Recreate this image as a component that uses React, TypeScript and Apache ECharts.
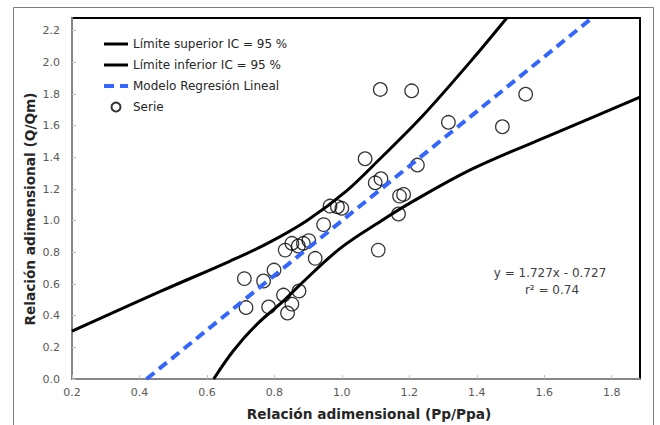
import React, { useEffect, useRef } from "react";
import * as echarts from "echarts";

const xTicks = { min: 0.2, max: 1.884, interval: 0.2 };
const yTicks = { min: 0, max: 2.28, interval: 0.2 };

const seriesNames = [
  "Límite superior IC = 95 %",
  "Límite inferior IC = 95 %",
  "Modelo Regresión Lineal",
  "Serie",
];

const upperLimit: [number, number][] = [
  [0.2, 0.303],
  [0.462, 0.553],
  [0.669, 0.745],
  [0.778, 0.855],
  [0.896, 1.0],
  [1.015, 1.19],
  [1.108, 1.38],
  [1.237, 1.656],
  [1.385, 2.014],
  [1.489, 2.28],
];

const lowerLimit: [number, number][] = [
  [0.62, 0.0],
  [0.679, 0.18],
  [0.748, 0.345],
  [0.827, 0.493],
  [0.876, 0.595],
  [0.995, 0.825],
  [1.114, 0.995],
  [1.193, 1.1],
  [1.39, 1.33],
  [1.647, 1.565],
  [1.884, 1.78],
];

const regression: [number, number][] = [
  [0.421, 0.0],
  [1.742, 2.28],
];

const observed: [number, number][] = [
  [1.114, 1.829],
  [1.207, 1.82],
  [1.545, 1.799],
  [1.316, 1.621],
  [1.476, 1.593],
  [1.069, 1.391],
  [1.224, 1.351],
  [1.116, 1.265],
  [1.099, 1.239],
  [1.183, 1.166],
  [1.171, 1.155],
  [1.168, 1.042],
  [1.108, 0.814],
  [0.965, 1.092],
  [0.987, 1.088],
  [1.0, 1.078],
  [0.946, 0.975],
  [0.902, 0.874],
  [0.886, 0.857],
  [0.871, 0.84],
  [0.852, 0.857],
  [0.832, 0.814],
  [0.921, 0.762],
  [0.799, 0.688],
  [0.768, 0.619],
  [0.711, 0.634],
  [0.873, 0.556],
  [0.827, 0.53],
  [0.852, 0.473],
  [0.716, 0.451],
  [0.783, 0.455],
  [0.839, 0.417],
];

const equationText = "y = 1.727x - 0.727";
const r2Text = "r² = 0.74";
const xTitle = "Relación adimensional (Pp/Ppa)";
const yTitle = "Relación adimensional (Q/Qm)";

const FONT = "DejaVu Sans";

export default function App() {
  const ref = useRef<HTMLDivElement>(null);
  useEffect(() => {
    if (!ref.current) return;
    const chart = echarts.init(ref.current, null, { renderer: "svg" });
    const axisCommon = {
      axisLine: { show: true, onZero: false, lineStyle: { color: "#868686", width: 2 } },
      axisTick: { show: true, inside: true, length: 4, lineStyle: { color: "#bfbfbf", width: 1 } },
      splitLine: { show: false },
      axisLabel: {
        color: "#595959",
        fontFamily: FONT,
        fontSize: 11,
        showMaxLabel: false,
        formatter: (v: number) => v.toFixed(1),
      },
    };
    const hiddenSymbol = { opacity: 0 };
    chart.setOption({
      animation: false,
      backgroundColor: "#ffffff",
      grid: {
        left: 72,
        top: 18,
        right: 20,
        bottom: 46,
        show: true,
        borderColor: "#000000",
        borderWidth: 2,
        backgroundColor: "transparent",
      },
      xAxis: {
        type: "value",
        ...xTicks,
        ...axisCommon,
        axisLabel: { ...axisCommon.axisLabel, margin: 8 },
      },
      yAxis: {
        type: "value",
        ...yTicks,
        ...axisCommon,
        axisLabel: { ...axisCommon.axisLabel, margin: 12 },
      },
      legend: {
        orient: "vertical",
        left: 102,
        top: 37,
        padding: 0,
        itemWidth: 24,
        itemHeight: 9,
        itemGap: 7,
        data: [
          { name: seriesNames[0], itemStyle: hiddenSymbol, lineStyle: { width: 3 } },
          { name: seriesNames[1], itemStyle: hiddenSymbol, lineStyle: { width: 3 } },
          { name: seriesNames[2], itemStyle: hiddenSymbol, lineStyle: { width: 4 } },
          { name: seriesNames[3] },
        ],
        textStyle: { fontFamily: FONT, fontSize: 12, color: "#262626", lineHeight: 14 },
      },
      graphic: [
        {
          type: "rect",
          silent: true,
          shape: { x: 13.5, y: 7.5, width: 640, height: 500 },
          style: { fill: "none", stroke: "#7f7f7f", lineWidth: 1 },
        },
        {
          type: "text",
          x: 550,
          y: 273,
          style: {
            text: equationText,
            fontFamily: FONT,
            fontSize: 12,
            fill: "#404040",
            textAlign: "center",
            textVerticalAlign: "middle",
          },
        },
        {
          type: "text",
          x: 552,
          y: 290,
          style: {
            text: r2Text,
            fontFamily: FONT,
            fontSize: 12,
            fill: "#404040",
            textAlign: "center",
            textVerticalAlign: "middle",
          },
        },
        {
          type: "text",
          x: 369,
          y: 414,
          style: {
            text: xTitle,
            fontFamily: FONT,
            fontSize: 13.7,
            fontWeight: "bold",
            fill: "#262626",
            textAlign: "center",
            textVerticalAlign: "middle",
          },
        },
        {
          type: "text",
          x: 30,
          y: 209,
          rotation: Math.PI / 2,
          style: {
            text: yTitle,
            fontFamily: FONT,
            fontSize: 13.7,
            fontWeight: "bold",
            fill: "#262626",
            textAlign: "center",
            textVerticalAlign: "middle",
          },
        },
      ],
      series: [
        {
          name: seriesNames[0],
          type: "line",
          data: upperLimit,
          smooth: 0.35,
          symbol: "none",
          lineStyle: { color: "#000000", width: 3 },
          itemStyle: { color: "#000000", opacity: 0 },
        },
        {
          name: seriesNames[1],
          type: "line",
          data: lowerLimit,
          smooth: 0.35,
          symbol: "none",
          lineStyle: { color: "#000000", width: 3 },
          itemStyle: { color: "#000000", opacity: 0 },
        },
        {
          name: seriesNames[2],
          type: "line",
          data: regression,
          symbol: "none",
          lineStyle: { color: "#3366ff", width: 4, type: [10, 6] },
          itemStyle: { color: "#3366ff", opacity: 0 },
        },
        {
          name: seriesNames[3],
          type: "scatter",
          data: observed,
          symbol: "circle",
          symbolSize: 13.5,
          itemStyle: { color: "rgba(255,255,255,0)", borderColor: "#000000", borderWidth: 1.3 },
        },
      ],
    });
    return () => chart.dispose();
  }, []);
  return (
    <div
      ref={ref}
      style={{ position: "fixed", left: 0, top: 0, width: 660, height: 425 }}
    />
  );
}
